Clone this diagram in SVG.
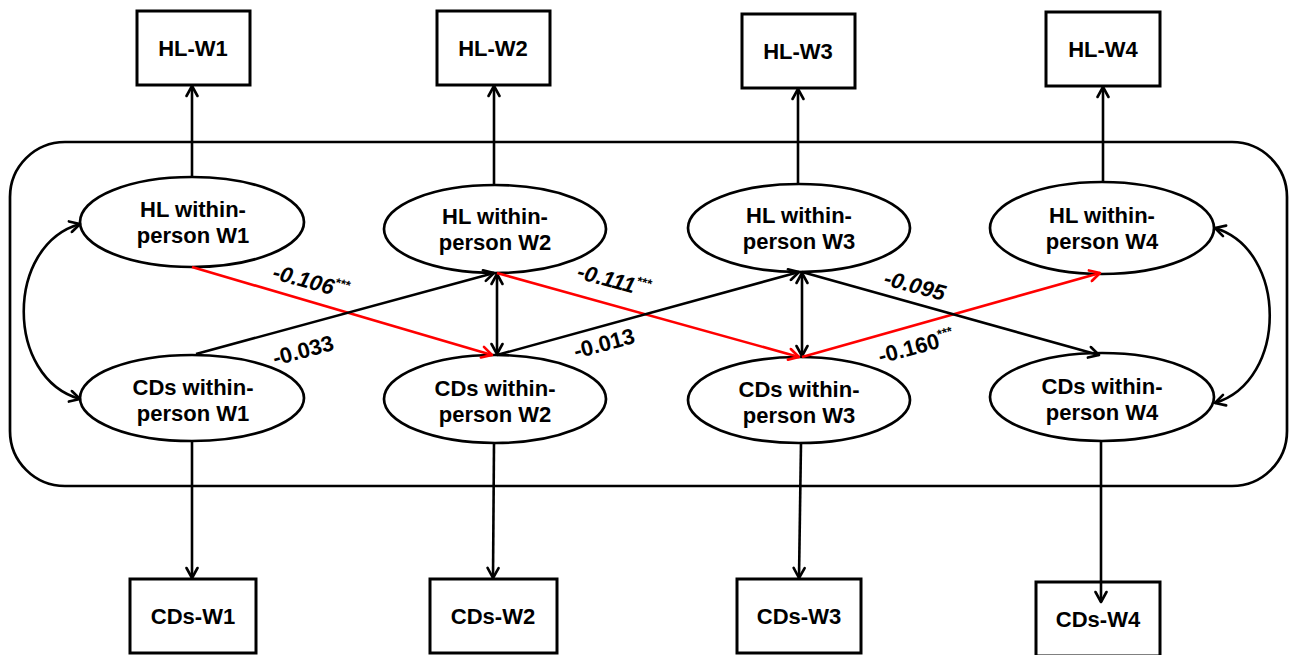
<svg xmlns="http://www.w3.org/2000/svg" width="1295" height="655" viewBox="0 0 1295 655">
<style>
  .box{fill:#fff;stroke:#000;stroke-width:3}
  .ell{fill:#fff;stroke:#000;stroke-width:2.7}
  .frame{fill:none;stroke:#000;stroke-width:2.7}
  .t{font-family:"Liberation Sans",Arial,sans-serif;font-weight:bold;font-size:22px;text-anchor:middle;fill:#000}
  .lab{font-family:"Liberation Sans",Arial,sans-serif;font-weight:bold;font-size:22px;text-anchor:middle;fill:#000}
  .it{font-style:italic}
  .sup{font-size:13px}
  .k{fill:none;stroke:#000;stroke-width:2.6}
  .r{fill:none;stroke:#ff0000;stroke-width:2.6}
</style>
<defs>
  <marker id="ak" viewBox="0 0 14 14" refX="12" refY="7" markerWidth="14" markerHeight="14" markerUnits="userSpaceOnUse" orient="auto-start-reverse">
    <path d="M2,1.5 L12,7 L2,12.5" fill="none" stroke="#000" stroke-width="2.6" stroke-linecap="round" stroke-linejoin="round"/>
  </marker>
  <marker id="ar" viewBox="0 0 14 14" refX="12" refY="7" markerWidth="14" markerHeight="14" markerUnits="userSpaceOnUse" orient="auto-start-reverse">
    <path d="M2,1.5 L12,7 L2,12.5" fill="none" stroke="#ff0000" stroke-width="2.6" stroke-linecap="round" stroke-linejoin="round"/>
  </marker>
</defs>
<rect width="1295" height="655" fill="#fff"/>
<rect id="frame" class="frame" x="10" y="142" width="1277" height="344" rx="55" ry="55"/>

<g id="hl-w1"><rect class="box" x="137" y="11" width="113" height="74"/><text class="t" x="193" y="56">HL-W1</text></g>
<g id="hl-w2"><rect class="box" x="437" y="11" width="113" height="74"/><text class="t" x="493" y="56">HL-W2</text></g>
<g id="hl-w3"><rect class="box" x="742" y="14" width="113" height="74"/><text class="t" x="798" y="59">HL-W3</text></g>
<g id="hl-w4"><rect class="box" x="1046" y="12" width="114" height="74"/><text class="t" x="1103" y="57">HL-W4</text></g>

<g id="cds-w1"><rect class="box" x="130" y="579" width="126" height="74"/><text class="t" x="193" y="624">CDs-W1</text></g>
<g id="cds-w2"><rect class="box" x="430" y="579" width="127" height="74"/><text class="t" x="493" y="624">CDs-W2</text></g>
<g id="cds-w3"><rect class="box" x="737" y="579" width="124" height="74"/><text class="t" x="799" y="624">CDs-W3</text></g>
<g id="cds-w4"><rect class="box" x="1036" y="582" width="124" height="74"/><text class="t" x="1098" y="627">CDs-W4</text></g>

<g id="hl-wp1"><ellipse class="ell" cx="192" cy="222" rx="112" ry="45"/><text class="t" x="193" y="217">HL within-</text><text class="t" x="193" y="243">person W1</text></g>
<g id="hl-wp2"><ellipse class="ell" cx="495" cy="229" rx="111" ry="44"/><text class="t" x="495" y="224">HL within-</text><text class="t" x="495" y="250">person W2</text></g>
<g id="hl-wp3"><ellipse class="ell" cx="799" cy="228" rx="111" ry="44"/><text class="t" x="799" y="223">HL within-</text><text class="t" x="799" y="249">person W3</text></g>
<g id="hl-wp4"><ellipse class="ell" cx="1102" cy="228" rx="112" ry="46"/><text class="t" x="1102" y="223">HL within-</text><text class="t" x="1102" y="249">person W4</text></g>

<g id="cds-wp1"><ellipse class="ell" cx="192" cy="398" rx="112" ry="43"/><text class="t" x="193" y="395">CDs within-</text><text class="t" x="193" y="421">person W1</text></g>
<g id="cds-wp2"><ellipse class="ell" cx="495" cy="399" rx="111" ry="44"/><text class="t" x="495" y="396">CDs within-</text><text class="t" x="495" y="422">person W2</text></g>
<g id="cds-wp3"><ellipse class="ell" cx="799" cy="400" rx="111" ry="43"/><text class="t" x="799" y="397">CDs within-</text><text class="t" x="799" y="423">person W3</text></g>
<g id="cds-wp4"><ellipse class="ell" cx="1102" cy="397" rx="112" ry="44"/><text class="t" x="1102" y="394">CDs within-</text><text class="t" x="1102" y="420">person W4</text></g>

<g id="connectors">
  <line class="k" x1="192" y1="177" x2="192" y2="86" marker-end="url(#ak)"/>
  <line class="k" x1="494" y1="185" x2="494" y2="86" marker-end="url(#ak)"/>
  <line class="k" x1="798" y1="184" x2="798" y2="89" marker-end="url(#ak)"/>
  <line class="k" x1="1103" y1="182" x2="1103" y2="87" marker-end="url(#ak)"/>
  <line class="k" x1="192" y1="441" x2="192" y2="578" marker-end="url(#ak)"/>
  <line class="k" x1="494" y1="443" x2="493" y2="578" marker-end="url(#ak)"/>
  <line class="k" x1="801" y1="443" x2="799" y2="578" marker-end="url(#ak)"/>
  <line class="k" x1="1101" y1="441" x2="1101" y2="602" marker-end="url(#ak)"/>
  <path class="k" d="M80,224 C5,245 5,378 80,399" marker-start="url(#ak)" marker-end="url(#ak)"/>
  <path class="k" d="M1215,228 C1288,250 1288,381 1215,403" marker-start="url(#ak)" marker-end="url(#ak)"/>
  <line class="k" x1="497" y1="274" x2="497" y2="354" marker-start="url(#ak)" marker-end="url(#ak)"/>
  <line class="k" x1="802" y1="273" x2="802" y2="356" marker-start="url(#ak)" marker-end="url(#ak)"/>
  <line class="r" x1="192" y1="267" x2="492" y2="355" marker-end="url(#ar)"/>
  <line class="k" x1="196" y1="354" x2="494" y2="273" marker-end="url(#ak)"/>
  <line class="r" x1="497" y1="273" x2="799" y2="357" marker-end="url(#ar)"/>
  <line class="k" x1="497" y1="355" x2="799" y2="272" marker-end="url(#ak)"/>
  <line class="r" x1="802" y1="357" x2="1100" y2="273" marker-end="url(#ar)"/>
  <line class="k" x1="802" y1="272" x2="1099" y2="355" marker-end="url(#ak)"/>
</g>

<g id="labels">
  <text class="lab it" x="311" y="289" transform="rotate(15 311 281)">-0.106<tspan class="sup" dy="-9">***</tspan></text>
  <text class="lab" x="303" y="358" transform="rotate(-15 303 350)">-0.033</text>
  <text class="lab it" x="614" y="288" transform="rotate(15 614 280)">-0.111<tspan class="sup" dy="-9">***</tspan></text>
  <text class="lab" x="604" y="351" transform="rotate(-15 604 343)">-0.013</text>
  <text class="lab it" x="915" y="293" transform="rotate(15 915 285)">-0.095</text>
  <text class="lab" x="916" y="354" transform="rotate(-15 916 346)">-0.160<tspan class="sup" dy="-9">***</tspan></text>
</g>
</svg>
